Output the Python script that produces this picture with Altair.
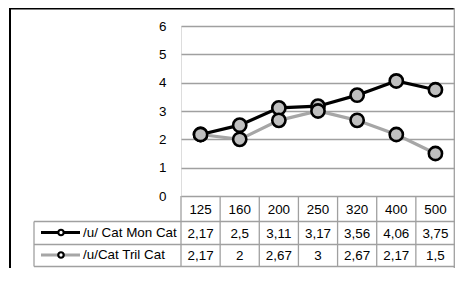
import altair as alt
import pandas as pd

categories = ["125", "160", "200", "250", "320", "400", "500"]
series_names = ["/u/ Cat Mon Cat", "/u/Cat Tril Cat"]
mon_values = [2.17, 2.5, 3.11, 3.17, 3.56, 4.06, 3.75]
tril_values = [2.17, 2.0, 2.67, 3.0, 2.67, 2.17, 1.5]
mon_labels = ["2,17", "2,5", "3,11", "3,17", "3,56", "4,06", "3,75"]
tril_labels = ["2,17", "2", "2,67", "3", "2,67", "2,17", "1,5"]
y_ticks = [0, 1, 2, 3, 4, 5, 6]

FONT = "Liberation Sans"
FS = 13.4
GRID = "#a0a0a0"
W, H = 274, 170

line_colors = ["#000000", "#a6a6a6"]
header_center = 183.5
row_centers = [207.5, 230]
row_lines = [195.5, 218.5, 240.5]

xscale = alt.Scale(type="band", domain=categories, paddingInner=0, paddingOuter=0)
yscale = alt.Scale(domain=[0, 6], nice=False, zero=True)
y_axis = alt.Axis(values=y_ticks, grid=True, gridColor=GRID, gridWidth=1.3,
                  domain=False, ticks=False, labelPadding=15, title=None,
                  labelFont=FONT, labelFontSize=FS, labelColor="#000",
                  labelOverlap=False)

frames = []
for name, vals, labs in [(series_names[0], mon_values, mon_labels),
                         (series_names[1], tril_values, tril_labels)]:
    frames.append(pd.DataFrame({"cat": categories, "value": vals, "label": labs, "series": name}))

layers = []
base_df = pd.DataFrame({"cat": categories})

for i, df in enumerate(frames):
    enc = dict(x=alt.X("cat:N", scale=xscale, axis=None, sort=categories),
               y=alt.Y("value:Q", scale=yscale, axis=y_axis))
    layers.append(alt.Chart(df).mark_line(color=line_colors[i], strokeWidth=3.2).encode(**enc))
    layers.append(alt.Chart(df).mark_point(filled=True, fill="#bfbfbf", stroke="#000",
                                           strokeWidth=2.6, size=175, opacity=1).encode(**enc))

layers.append(alt.Chart(base_df).mark_text(font=FONT, fontSize=FS, color="#000").encode(
    x=alt.X("cat:N", scale=xscale, axis=None, sort=categories),
    y=alt.value(header_center), text="cat:N"))

for i, df in enumerate(frames):
    layers.append(alt.Chart(df).mark_text(font=FONT, fontSize=FS, color="#000").encode(
        x=alt.X("cat:N", scale=xscale, axis=None, sort=categories),
        y=alt.value(row_centers[i]), text="label:N"))

layers.append(alt.Chart(base_df).mark_rule(color=GRID, strokeWidth=1.3).encode(
    x=alt.X("cat:N", scale=xscale, axis=None, sort=categories, bandPosition=0),
    y=alt.value(H), y2=alt.value(row_lines[-1])))

for ry in row_lines:
    layers.append(alt.Chart(base_df.head(1)).mark_rule(color=GRID, strokeWidth=1.3).encode(
        x=alt.value(-147), x2=alt.value(W), y=alt.value(ry)))
layers.append(alt.Chart(base_df.head(1)).mark_rule(color=GRID, strokeWidth=1.3).encode(
    x=alt.value(-147), y=alt.value(row_lines[0]), y2=alt.value(row_lines[-1])))

for i, name in enumerate(series_names):
    one = pd.DataFrame({"series": [name]})
    layers.append(alt.Chart(one).mark_rule(color=line_colors[i], strokeWidth=3.2).encode(
        x=alt.value(-140), x2=alt.value(-101), y=alt.value(row_centers[i] - 1)))
    layers.append(alt.Chart(one).mark_point(filled=True, fill="#ffffff", stroke="#000",
                                            strokeWidth=2.2, size=30, opacity=1).encode(
        x=alt.value(-120), y=alt.value(row_centers[i] - 1)))
    layers.append(alt.Chart(one).mark_text(font=FONT, fontSize=FS, color="#000", align="left").encode(
        x=alt.value(-98), y=alt.value(row_centers[i] - 1), text="series:N"))

frame = base_df.head(1)
layers.append(alt.Chart(frame).mark_rule(color="#000", strokeWidth=2).encode(
    x=alt.value(-171), y=alt.value(-17.5), y2=alt.value(242)))
layers.append(alt.Chart(frame).mark_rule(color="#000", strokeWidth=1.6).encode(
    x=alt.value(-172), x2=alt.value(W), y=alt.value(-17.2)))
layers.append(alt.Chart(frame).mark_rule(color=GRID, strokeWidth=1.3).encode(
    x=alt.value(W - 0.7), y=alt.value(-18), y2=alt.value(242)))

chart = alt.layer(*layers).properties(
    width=W, height=H,
    autosize=alt.AutoSizeParams(type="none"),
    padding={"left": 173, "top": 18, "right": 0, "bottom": 72},
).configure_view(stroke=GRID, strokeWidth=1.3).configure(background="white")

chart.save("out.html", embed_options={"renderer": "svg", "actions": False})
